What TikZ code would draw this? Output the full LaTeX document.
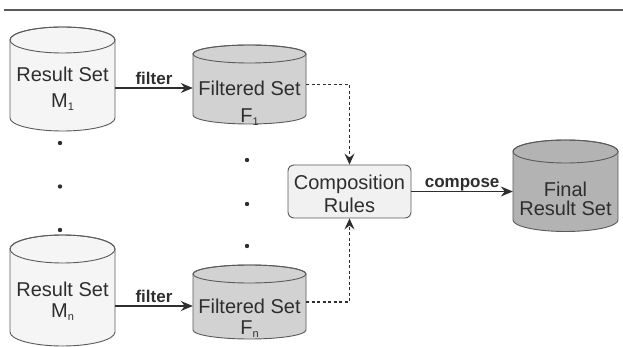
\documentclass[tikz,border=0pt]{standalone}
\usepackage{fontspec}
\setmainfont{Liberation Sans}
\usetikzlibrary{arrows.meta}
\definecolor{txt}{HTML}{2E2E2E}
\definecolor{edge}{HTML}{5A5A5A}
\definecolor{mfill}{HTML}{F5F5F5}
\definecolor{ffill}{HTML}{D2D2D2}
\definecolor{finfill}{HTML}{B3B3B3}
\definecolor{boxfill}{HTML}{F1F1F1}
\newcommand\mycyl[6]{%
  \filldraw[cylline, fill=#6] (#1-#2,#3) -- (#1-#2,#4)
    arc[start angle=180,end angle=360,x radius=#2pt,y radius=#5pt]
    -- (#1+#2,#3)
    arc[start angle=0,end angle=180,x radius=#2pt,y radius=#5pt] -- cycle;
  \draw[cylline] (#1,#3) ellipse[x radius=#2pt, y radius=#5pt];}
\newcommand\lowsub[1]{\raisebox{-0.3ex}{\fontsize{11}{12}\selectfont #1}}
\tikzset{
  cylline/.style={draw=edge, line width=0.9pt},
  body/.style={inner sep=0pt, draw=none},
  line/.style={inner sep=0pt, text height=14.5pt, text depth=0pt, text=txt, font=\fontsize{20}{23}\selectfont},
  elabel/.style={inner sep=0pt, text height=12pt, text depth=0pt, text=txt, font=\fontsize{17}{18}\selectfont\bfseries},
  arr/.style={draw=txt, line width=1.1pt, -{Stealth[length=12pt,width=10pt,inset=4pt]}},
  darr/.style={draw=txt, line width=1.1pt, dash pattern=on 3pt off 2.5pt, -{Stealth[length=11pt,width=10pt,inset=4pt]}},
  dotmark/.style={circle, fill=txt, inner sep=0pt, minimum size=4.4pt},
  rulebox/.style={draw=edge, line width=0.9pt, fill=boxfill, rounded corners=6pt, minimum width=123pt, minimum height=53pt, inner sep=0pt}
}
\begin{document}
\begin{tikzpicture}[x=1pt,y=-1pt]
\useasboundingbox (0,0) rectangle (623,347);
% top rule
\coordinate (r1) at (4,10);
\coordinate (r2) at (623,10);
\draw[edge, line width=1.2pt] (r1) -- (r2);

% cylinders
\mycyl{62.5}{52.5}{40}{118}{13}{mfill}
\mycyl{62.5}{52.5}{249}{332}{14}{mfill}
\mycyl{249.5}{56.5}{54}{115}{9}{ffill}
\mycyl{249.5}{56.5}{274}{330}{9}{ffill}
\mycyl{565.5}{52.5}{151.5}{220}{11.5}{finfill}

% body nodes
\node[body, minimum width=105pt, minimum height=78pt] (M1) at (62.5,79) {};
\node[body, minimum width=105pt, minimum height=83pt] (Mn) at (62.5,290.5) {};
\node[body, minimum width=113pt, minimum height=61pt] (F1) at (249.5,84.5) {};
\node[body, minimum width=113pt, minimum height=56pt] (Fn) at (249.5,302) {};
\node[body, minimum width=105pt, minimum height=68.5pt] (Fin) at (565.5,185.75) {};

% texts
\node[line] (M1a) at (62.5,74.5) {Result Set};
\node[line] (M1b) at (62.5,100) {M\lowsub{1}};
\node[line] (Mna) at (62.5,289) {Result Set};
\node[line] (Mnb) at (62.5,310) {M\lowsub{n}};
\node[line] (F1a) at (249.5,88) {Filtered Set};
\node[line] (F1b) at (249.5,115) {F\lowsub{1}};
\node[line] (Fna) at (249.5,306) {Filtered Set};
\node[line] (Fnb) at (249.5,327) {F\lowsub{n}};
\node[line] (Fina) at (565.5,189.5) {Final};
\node[line] (Finb) at (565.5,208.5) {Result Set};

% composition box
\node[rulebox] (C) at (349.5,191.5) {};
\node[line] (Ca) at (349.5,182) {Composition};
\node[line] (Cb) at (349.5,205) {Rules};

% dots
\node[dotmark] (d1) at (60,143) {};
\node[dotmark] (d2) at (60,186.5) {};
\node[dotmark] (d3) at (60,230) {};
\node[dotmark] (d4) at (247,160) {};
\node[dotmark] (d5) at (247,204) {};
\node[dotmark] (d6) at (247,246) {};

% connectors
\draw[arr] (M1.east |- F1a) -- node[elabel, midway, above=3pt] {filter} (F1.west |- F1a);
\draw[arr] (Mn.east |- Fna) -- node[elabel, midway, above=3pt] {filter} (Fn.west |- Fna);
\draw[darr] (F1.east) -| (C.north);
\draw[darr] (Fn.east) -| (C.south);
\draw[arr] (C.east) -- node[elabel, midway, above=3pt] {compose} (C.east -| Fin.west);
\end{tikzpicture}
\end{document}
